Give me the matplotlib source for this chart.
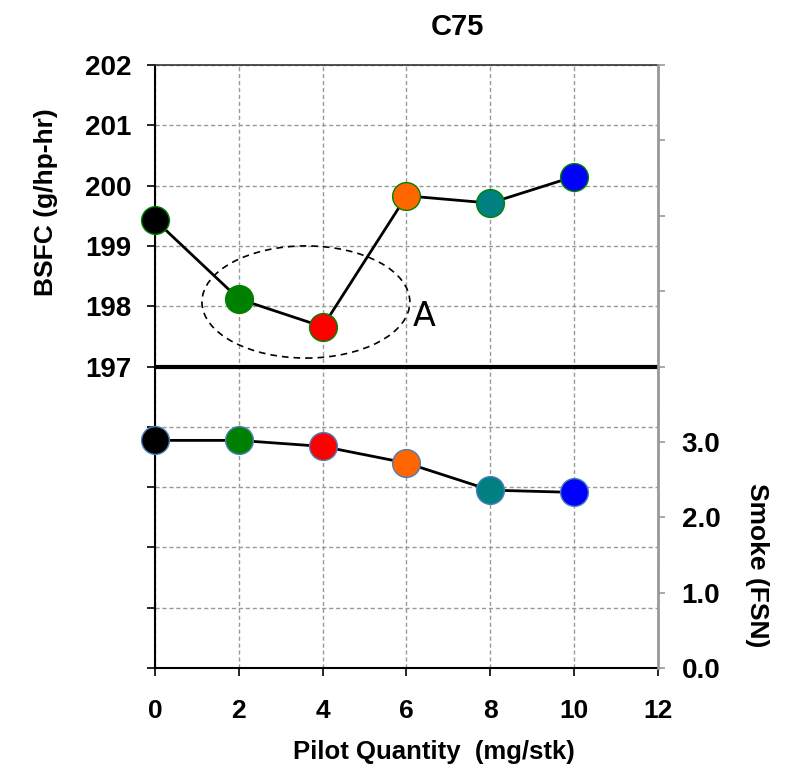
import matplotlib.pyplot as plt
import numpy as np
from matplotlib.patches import Ellipse

plt.rcParams['font.family'] = ['Liberation Sans', 'DejaVu Sans']

# pilot quantity sweep at C75
pilot = [0, 2, 4, 6, 8, 10]
bsfc = [199.43, 198.12, 197.66, 199.83, 199.71, 200.15]
smoke = [3.02, 3.02, 2.94, 2.72, 2.36, 2.33]
colors = ['black', 'green', 'red', '#ff6600', 'teal', 'blue']

xticks = [0, 2, 4, 6, 8, 10, 12]
bsfc_ticks = list(range(192, 203))
smoke_ticks = list(range(0, 9))

fig = plt.figure(figsize=(7.88, 7.69), dpi=100)
ax = fig.add_axes([0.1967, 0.1313, 0.6383, 0.7842])
ax2 = ax.twinx()

# BSFC on the left axis, upper half
ax.plot(pilot, bsfc, color='black', lw=2, zorder=3)
for x, y, c in zip(pilot, bsfc, colors):
    ax.plot(x, y, 'o', ms=20, mfc=c, mec='green', mew=1, zorder=4, clip_on=False)
ax.axhline(197, color='black', lw=3, zorder=3)

ax.set_xlim(0, 12)
ax.set_ylim(192, 202)
ax.set_xticks(xticks)
ax.set_yticks(bsfc_ticks)
ax.set_yticklabels([str(t) if t >= 197 else '' for t in bsfc_ticks])
ax.grid(True, color='#999999', ls=(0, (3, 2)), lw=1)
ax.set_axisbelow(True)
ax.tick_params(axis='both', direction='out', length=6, width=1.2, labelsize=20)
ax.tick_params(axis='x', pad=16, labelsize=19)
ax.tick_params(axis='y', pad=11)
for lab in ax.get_xticklabels() + ax.get_yticklabels():
    lab.set_fontweight('bold')
ax.spines['left'].set_linewidth(1.5)
ax.spines['bottom'].set_linewidth(1.5)
ax.spines['top'].set_linewidth(1.2)
ax.spines['top'].set_color('#333333')
ax.spines['right'].set_visible(False)

ax.set_xlabel('Pilot Quantity  (mg/stk)', fontsize=18.5, fontweight='bold')
ax.xaxis.set_label_coords(0.555, -0.12)
ax.set_ylabel('BSFC (g/hp-hr)', fontsize=19, fontweight='bold')
ax.yaxis.set_label_coords(-0.193, 0.772)

# dashed ring around the BSFC minimum
ax.add_patch(Ellipse((3.6, 198.07), 4.96, 1.86, fill=False, ls=(0, (4, 3)),
                     ec='black', lw=1.2, zorder=2))
ax.text(6.15, 197.83, 'A', fontsize=24, family='DejaVu Sans', va='center', ha='left')

# smoke on the right axis, lower half
ax2.plot(pilot, smoke, color='black', lw=2, zorder=3)
for x, y, c in zip(pilot, smoke, colors):
    ax2.plot(x, y, 'o', ms=20, mfc=c, mec='#4a7ebb', mew=1, zorder=4, clip_on=False)
ax2.set_ylim(0, 8)
ax2.set_yticks(smoke_ticks)
ax2.set_yticklabels(['%.1f' % t if t <= 3 else '' for t in smoke_ticks])
ax2.tick_params(axis='y', direction='out', length=5, width=1.2, color='#999999',
                labelsize=20, pad=12)
for lab in ax2.get_yticklabels():
    lab.set_fontweight('bold')
ax2.spines['right'].set_color('#999999')
ax2.spines['right'].set_linewidth(2)
ax2.spines['left'].set_visible(False)
ax2.spines['top'].set_visible(False)
ax2.spines['bottom'].set_visible(False)
ax2.set_ylabel('Smoke (FSN)', fontsize=19, fontweight='bold', rotation=270, va='center')
ax2.yaxis.set_label_coords(1.197, 0.17)

fig.text(0.581, 0.965, 'C75', fontsize=21, fontweight='bold', ha='center', va='center')

fig.savefig('out.png', dpi=100)
